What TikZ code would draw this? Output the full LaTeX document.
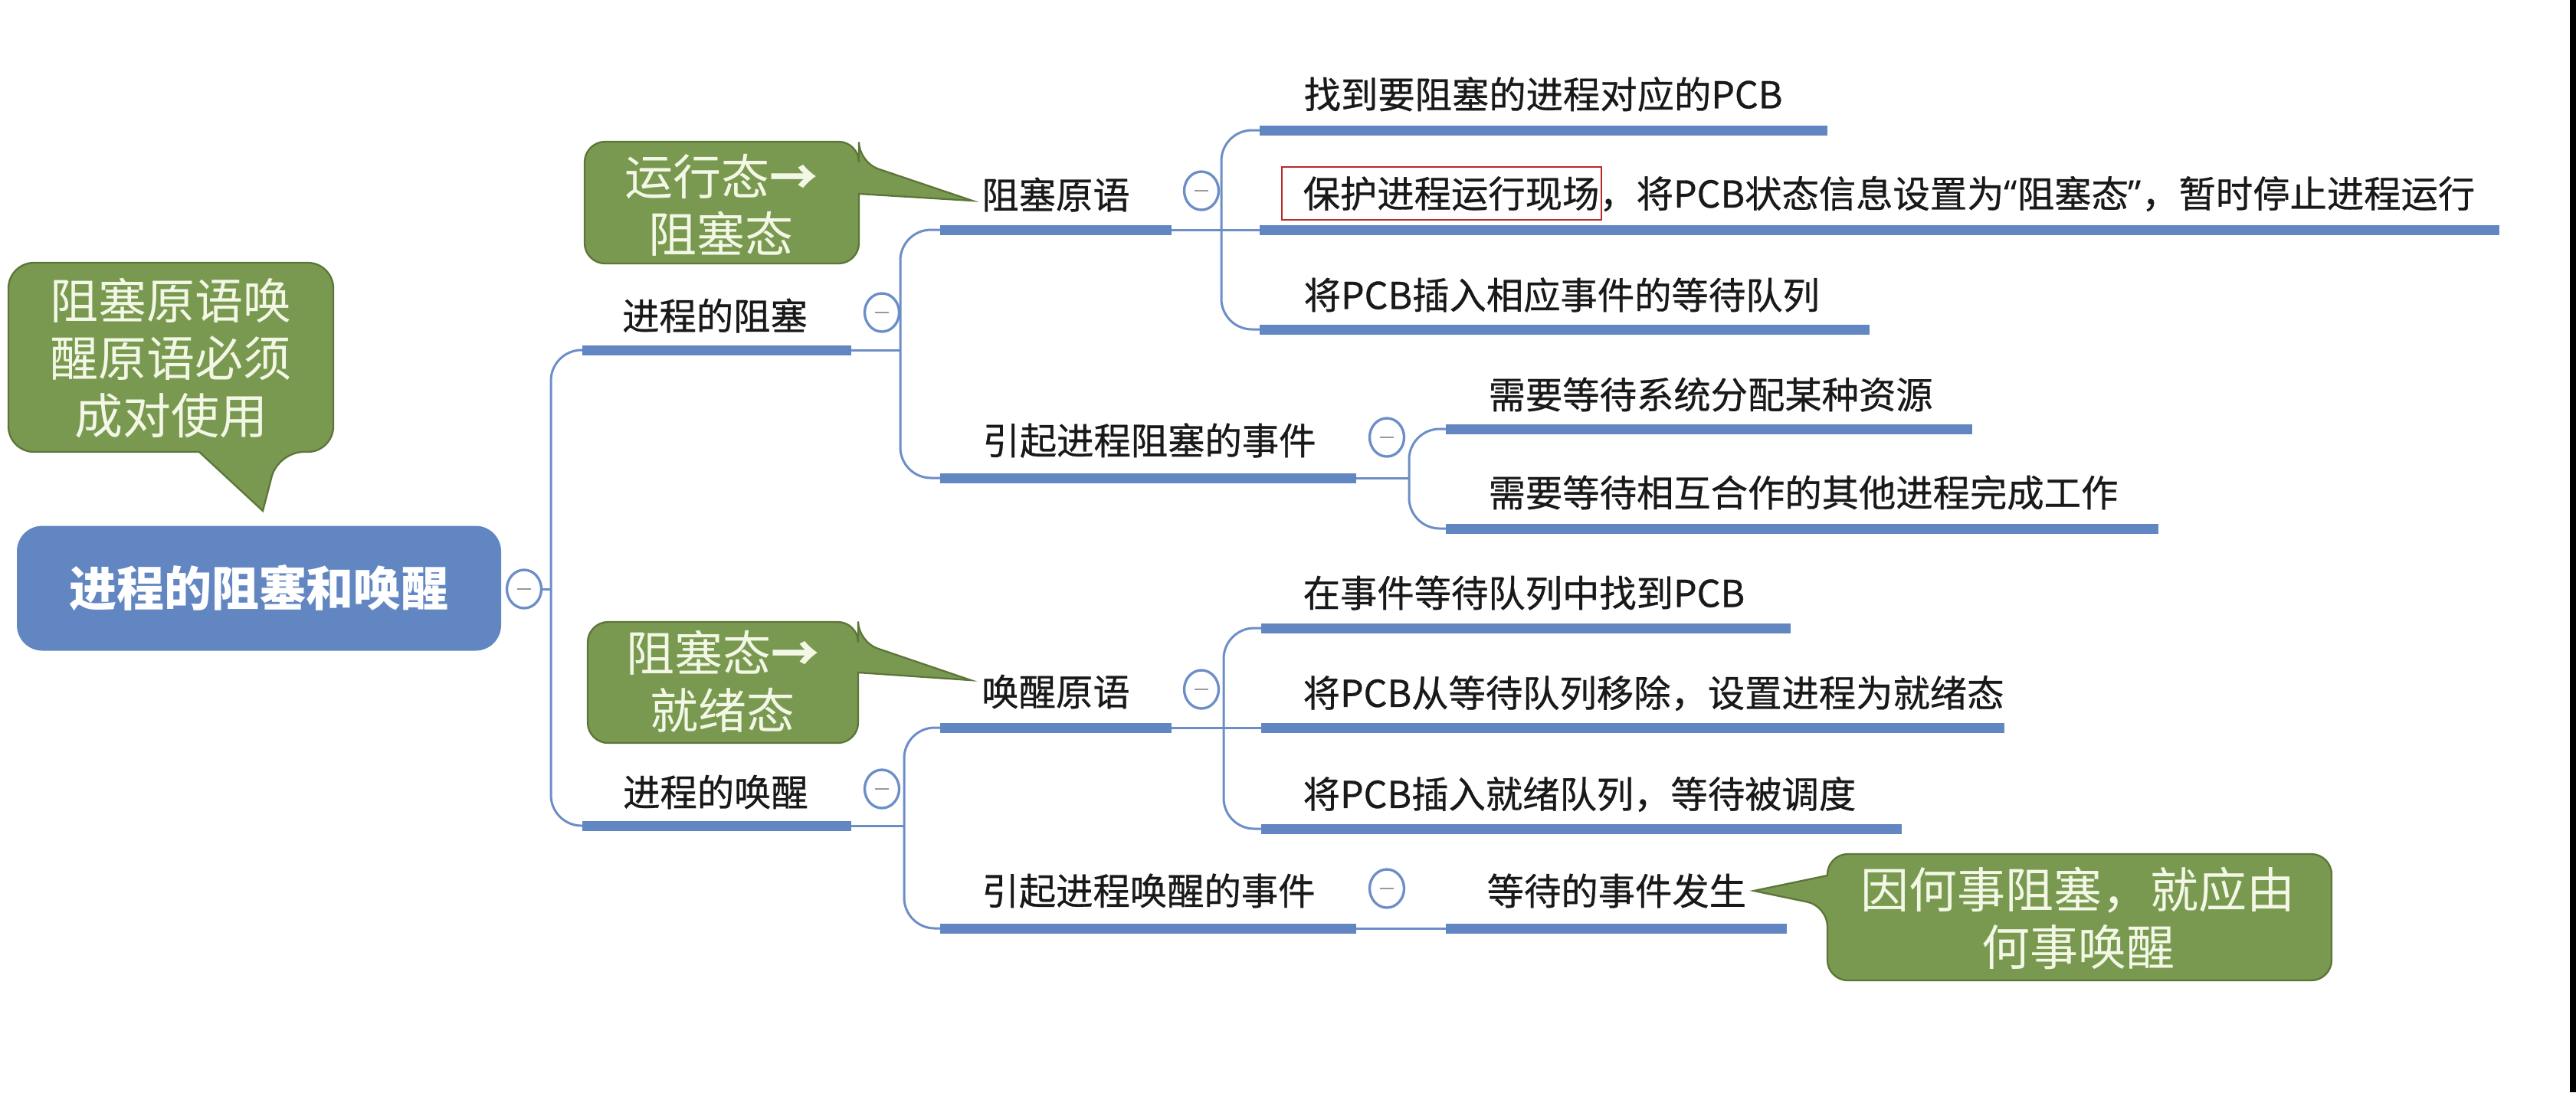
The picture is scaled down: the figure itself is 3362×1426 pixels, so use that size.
\documentclass[tikz,border=0pt]{standalone}
\usepackage{fontspec}
\newfontfamily\cjk{Noto Sans CJK SC}
\newfontfamily\cjkdark[FakeBold=0.6]{Noto Sans CJK SC}
\newfontfamily\westq{Noto Sans}
\usetikzlibrary{shapes.geometric}

\definecolor{topicblue}{RGB}{98,134,194}
\definecolor{linkblue}{RGB}{108,142,200}
\definecolor{notegreen}{RGB}{122,153,80}
\definecolor{noteedge}{RGB}{92,118,58}
\definecolor{notetext}{RGB}{243,248,230}
\definecolor{markred}{RGB}{185,40,40}

\begin{document}
\begin{tikzpicture}[x=0.3pt,y=0.3pt,yscale=-1,
  topic/.style={font=\cjkdark\fontsize{14.5}{17}\selectfont, text=black!90, inner sep=0pt},
  rootbox/.style={fill=topicblue, rounded corners=10pt, minimum width=189.6pt, minimum height=48.9pt,
    font=\cjk\bfseries\fontsize{18.6}{22}\selectfont, text=white, inner sep=0pt},
  bar/.style={line width=3.9pt, draw=topicblue},
  link/.style={line width=0.9pt, draw=linkblue, rounded corners=12pt},
  fold/.style={ellipse, draw=linkblue, line width=1pt, fill=white, minimum width=13.5pt,
    minimum height=15pt, inner sep=0pt,
    path picture={\draw[gray!80, line width=0.8pt] ([xshift=-2.6pt]path picture bounding box.center)
      -- ([xshift=2.6pt]path picture bounding box.center);}},
  notebox/.style={fill=notegreen, draw=noteedge, line width=0.7pt},
  note/.style={font=\cjk\fontsize{18.9}{22.5}\selectfont, text=notetext, align=center, inner sep=0pt}
]
\useasboundingbox (0,0) rectangle (3362,1426);

%Shapes: callouts
\draw [notebox] [rounded corners=10pt] (260,590) -- (11,590) -- (11,343) -- (435,343) -- (435,590) -- (363,590) [sharp corners] -- (343,667) -- cycle ;
\draw [notebox] [rounded corners=8pt] (1121,253) -- (1121,344) -- (763,344) -- (763,185) -- (1121,185) -- (1121,212) [sharp corners] -- (1269,262) -- cycle ;
\draw [notebox] [rounded corners=8pt] (1120,878) -- (1120,970) -- (767,970) -- (767,812) -- (1120,812) -- (1120,838) [sharp corners] -- (1267,888) -- cycle ;
\draw [notebox] [rounded corners=8pt] (2385,1143) -- (2385,1115) -- (3043,1115) -- (3043,1280) -- (2385,1280) -- (2385,1183) [sharp corners] -- (2289,1163) -- cycle ;

% Text Node
\draw (223,468) node [note] (note1) {阻塞原语唤\\醒原语必须\\成对使用};
% Text Node
\draw (941,268) node [note] (note2) {运行态{\bfseries →}\\阻塞态};
% Text Node
\draw (943,890) node [note] (note3) {阻塞态{\bfseries →}\\就绪态};
% Text Node
\draw (2712,1199) node [note] (note4) {因何事阻塞，就应由\\何事唤醒};

%Root
\draw (338,768) node [rootbox] (root) {进程的阻塞和唤醒};
\draw (684,769) node [fold] (rootfold) {};

%Bar end points
\coordinate (b1l) at (760,457);   \coordinate (b1r) at (1111,457);
\coordinate (b2l) at (760,1078);  \coordinate (b2r) at (1111,1078);
\coordinate (b11l) at (1227,300); \coordinate (b11r) at (1529,300);
\coordinate (b12l) at (1227,624); \coordinate (b12r) at (1770,624);
\coordinate (b21l) at (1227,950); \coordinate (b21r) at (1529,950);
\coordinate (b22l) at (1227,1212); \coordinate (b22r) at (1770,1212);
\coordinate (b111l) at (1644,170); \coordinate (b111r) at (2385,170);
\coordinate (b112l) at (1644,300); \coordinate (b112r) at (3262,300);
\coordinate (b113l) at (1644,430); \coordinate (b113r) at (2440,430);
\coordinate (b121l) at (1887,560); \coordinate (b121r) at (2574,560);
\coordinate (b122l) at (1887,690); \coordinate (b122r) at (2817,690);
\coordinate (b211l) at (1646,820); \coordinate (b211r) at (2337,820);
\coordinate (b212l) at (1646,950); \coordinate (b212r) at (2616,950);
\coordinate (b213l) at (1646,1082); \coordinate (b213r) at (2482,1082);
\coordinate (b221l) at (1887,1212); \coordinate (b221r) at (2332,1212);

%Junctions
\coordinate (j0) at (719,769);
\coordinate (j1) at (1175,457);
\coordinate (j2) at (1180,1078);
\coordinate (j11) at (1594,300);
\coordinate (j12) at (1839,624);
\coordinate (j21) at (1597,950);

%Links
\draw [link] (rootfold.east) -- (j0) ;
\draw [link] (j0) |- (b1l) ;
\draw [link] (j0) |- (b2l) ;
\draw [link] (b1r) -- (j1) ;
\draw [link] (j1) |- (b11l) ;
\draw [link] (j1) |- (b12l) ;
\draw [link] (b2r) -- (j2) ;
\draw [link] (j2) |- (b21l) ;
\draw [link] (j2) |- (b22l) ;
\draw [link] (b11r) -- (j11) ;
\draw [link] (j11) |- (b111l) ;
\draw [link] (j11) -- (b112l) ;
\draw [link] (j11) |- (b113l) ;
\draw [link] (b12r) -- (j12) ;
\draw [link] (j12) |- (b121l) ;
\draw [link] (j12) |- (b122l) ;
\draw [link] (b21r) -- (j21) ;
\draw [link] (j21) |- (b211l) ;
\draw [link] (j21) -- (b212l) ;
\draw [link] (j21) |- (b213l) ;
\draw [link] (b22r) -- (b221l) ;

%Bars
\draw [bar] (b1l) -- (b1r) ;
\draw [bar] (b2l) -- (b2r) ;
\draw [bar] (b11l) -- (b11r) ;
\draw [bar] (b12l) -- (b12r) ;
\draw [bar] (b21l) -- (b21r) ;
\draw [bar] (b22l) -- (b22r) ;
\draw [bar] (b111l) -- (b111r) ;
\draw [bar] (b112l) -- (b112r) ;
\draw [bar] (b113l) -- (b113r) ;
\draw [bar] (b121l) -- (b121r) ;
\draw [bar] (b122l) -- (b122r) ;
\draw [bar] (b211l) -- (b211r) ;
\draw [bar] (b212l) -- (b212r) ;
\draw [bar] (b213l) -- (b213r) ;
\draw [bar] (b221l) -- (b221r) ;

%Folds
\draw (1151,408) node [fold] (fold1) {};
\draw (1151,1030) node [fold] (fold2) {};
\draw (1568,249) node [fold] (fold11) {};
\draw (1810,571) node [fold] (fold12) {};
\draw (1568,900) node [fold] (fold21) {};
\draw (1810,1160) node [fold] (fold22) {};

% Text Node
\draw (933,412) node [topic] (t1) {进程的阻塞};
% Text Node
\draw (934,1034) node [topic] (t2) {进程的唤醒};
% Text Node
\draw (1378,254) node [topic] (t11) {阻塞原语};
% Text Node
\draw (1500,575) node [topic] (t12) {引起进程阻塞的事件};
% Text Node
\draw (1378,903) node [topic] (t21) {唤醒原语};
% Text Node
\draw (1499,1163) node [topic] (t22) {引起进程唤醒的事件};
% Text Node
\draw (1701,123) node [topic, anchor=west] (t111) {找到要阻塞的进程对应的PCB};
% Text Node
\draw (1700,253) node [topic, anchor=west] (t112) {保护进程运行现场，将PCB状态信息设置为{\westq“}阻塞态{\westq”}，暂时停止进程运行};
% Text Node
\draw (1701,385) node [topic, anchor=west] (t113) {将PCB插入相应事件的等待队列};
% Text Node
\draw (1942,515) node [topic, anchor=west] (t121) {需要等待系统分配某种资源};
% Text Node
\draw (1942,643) node [topic, anchor=west] (t122) {需要等待相互合作的其他进程完成工作};
% Text Node
\draw (1700,774) node [topic, anchor=west] (t211) {在事件等待队列中找到PCB};
% Text Node
\draw (1700,905) node [topic, anchor=west] (t212) {将PCB从等待队列移除，设置进程为就绪态};
% Text Node
\draw (1700,1037) node [topic, anchor=west] (t213) {将PCB插入就绪队列，等待被调度};
% Text Node
\draw (1940,1163) node [topic, anchor=west] (t221) {等待的事件发生};

%Mark
\draw [markred, line width=0.6pt] (1673,218) rectangle (2090,287) ;

%Screen edge
\fill [black] (3354,0) rectangle (3362,1426) ;
\end{tikzpicture}
\end{document}
